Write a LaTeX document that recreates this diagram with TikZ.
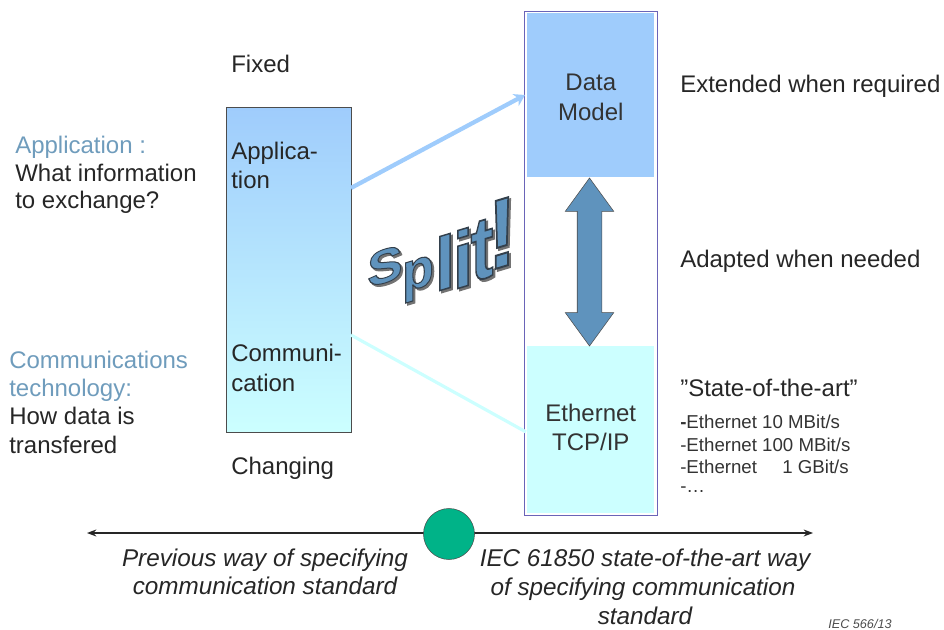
\documentclass[tikz,border=0pt]{standalone}
\usepackage{fontspec}
\setmainfont{Liberation Sans}
\newfontfamily\splitfont[FakeBold=2]{Liberation Sans Bold}
\usetikzlibrary{arrows.meta, shapes.arrows, positioning}

\definecolor{datablue}{HTML}{9FCCFC}
\definecolor{ethcyan}{HTML}{CCFFFF}
\definecolor{headblue}{HTML}{6F9CBC}
\definecolor{steelfill}{HTML}{5F93BD}
\definecolor{framevio}{HTML}{6A64B8}
\definecolor{discgreen}{HTML}{00B388}

\tikzset{
  label/.style={anchor=west, inner sep=0pt, yshift=-1.5pt, text height=13pt, text depth=3.6pt, font=\fontsize{18}{18}\selectfont, text=black!85},
  head/.style={label, text=headblue},
  small/.style={anchor=west, inner sep=0pt, font=\fontsize{14}{14}\selectfont, text=black!80},
  way/.style={inner sep=0pt, yshift=-1.5pt, text height=13pt, text depth=3.6pt, font=\fontsize{18.2}{18.2}\selectfont\itshape, text=black!85},
  layer/.style={inner sep=0pt, anchor=north west, align=center, font=\fontsize{18}{22}\selectfont, text=black!80},
  splitshadow/.style={inner sep=0pt, text=black!55, transform shape, font=\splitfont},
  splitletter/.style={inner sep=0pt, text=steelfill, transform shape, font=\splitfont}
}

\begin{document}
\begin{tikzpicture}[x=0.75pt,y=-0.75pt,>=Stealth]
  \useasboundingbox (0,0) rectangle (944,630);

% the two bars
  \node[draw=black!70, minimum width=125*0.75pt, minimum height=325*0.75pt, inner sep=0pt,
        top color=datablue, bottom color=ethcyan, anchor=north west] (stack) at (226,107) {};
  \node[draw=framevio, line width=0.9pt, minimum width=133*0.75pt, minimum height=504*0.75pt, inner sep=0pt,
        anchor=north west] (frame) at (524,11) {};
  \node[fill=datablue, minimum width=127*0.75pt, minimum height=164*0.75pt, inner sep=0pt,
        anchor=north west] (model) at (527,13) {};
  \node[fill=ethcyan, minimum width=127*0.75pt, minimum height=167*0.75pt, inner sep=0pt,
        anchor=north west] (ether) at (527,346) {};
  \node[layer, anchor=center, yshift=-1.5pt] (modelText) at (model.center) {Data\\Model};
  \node[layer, anchor=center, yshift=2pt] (etherText) at (ether.center) {Ethernet\\TCP/IP};

% labels inside the left bar
  \node[label] (app1) at (231,151) {Applica-};
  \node[label] (app2) at (231,180) {tion};
  \node[label] (com1) at (231,353) {Communi-};
  \node[label] (com2) at (231,383) {cation};
  \node[label] (fixed) at (231,64) {Fixed};
  \node[label] (changing) at (231,466) {Changing};

% left column
  \node[head] (lapp) at (15,145) {Application :};
  \node[label] (lapp1) at (15,173) {What information};
  \node[label] (lapp2) at (15,200) {to exchange?};
  \node[head] (lcom) at (9,360) {Communications};
  \node[head] (lcom1) at (9,388) {technology:};
  \node[label] (lcom2) at (9,416) {How data is};
  \node[label] (lcom3) at (9,445) {transfered};

% right column
  \node[label] (ext) at (680,84) {Extended when required};
  \node[label] (adapt) at (680,259) {Adapted when needed};
  \node[label] (state) at (680,388) {"State-of-the-art"};
  \node[small] (e10) at (680,422) {\textbf{-}Ethernet 10 MBit/s};
  \node[small] (e100) at (680,445) {-Ethernet 100 MBit/s};
  \node[small] (e1g) at (680,467) {-Ethernet\hspace{19pt}1 GBit/s};
  \node[small] (dots) at (680,490) {-\ldots};

% the connectors
  \coordinate (toModel) at (525,95);
  \coordinate (toEther) at (526,432);
  \coordinate (fromApp) at (351,188);
  \coordinate (fromCom) at (351,335);
  \draw[datablue, line width=3.2pt, -{Stealth[length=8pt,width=10pt]}] (fromApp) -- (toModel);
  \draw[ethcyan, line width=2.4pt] (fromCom) -- (toEther);

  \node[double arrow, draw=black!70, fill=steelfill, rotate=90, inner xsep=0pt, inner ysep=12*0.75pt,
        minimum height=168*0.75pt, minimum width=48*0.75pt,
        double arrow head extend=12*0.75pt, double arrow tip angle=72,
        anchor=center] (adaptArrow) at (589.5,262) {};

% the word
  \foreach \ch/\px/\py/\sx/\sy in {S/385/266/4/3.6, p/418/279/3.9/4.1, l/445/262/5.6/5.6, i/463/258/5.6/6, t/482/250/5.2/6.7, !/502/233/6.5/7.4}
  {
    \node[splitshadow, yslant=0.3, xscale=\sx, yscale=\sy] at (\px+2,\py+2) {\ch};
    \node[splitletter, yslant=0.3, xscale=\sx, yscale=\sy] at (\px,\py) {\special{pdf:code 0.2 0.25 0.3 RG}\ch};
  }

% the scale at the bottom
  \coordinate (scaleL) at (87,533);
  \coordinate (scaleR) at (813,533);
  \draw[<->, black!85, line width=0.9pt] (scaleL) -- (scaleR);
  \node[circle, draw=black!70, fill=discgreen, minimum size=51*0.75pt, inner sep=0pt] (now) at (449,534) {};

  \node[way] (prev1) at (265,558) {Previous way of specifying};
  \node[way] (prev2) at (265,586) {communication standard};
  \node[way] (iec1) at (645,558) {IEC 61850 state-of-the-art way};
  \node[way] (iec2) at (643,587) {of specifying communication};
  \node[way] (iec3) at (645,616) {standard};
  \node[inner sep=0pt, font=\fontsize{9.5}{9.5}\selectfont\itshape, text=black!70, anchor=west] (ref) at (828,624) {IEC 566/13};
\end{tikzpicture}
\end{document}
